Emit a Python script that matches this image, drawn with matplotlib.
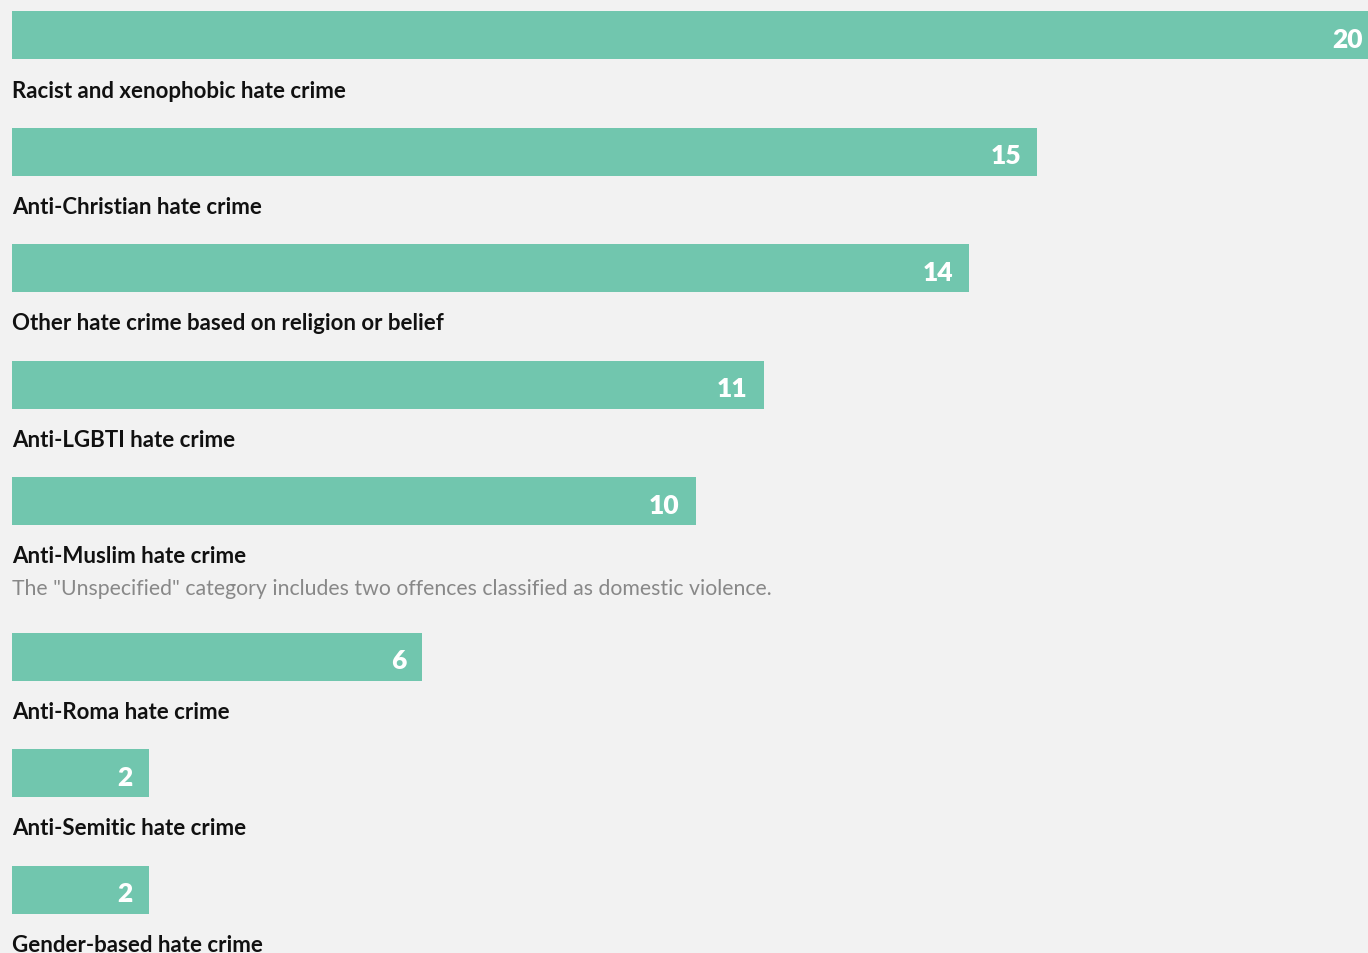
import matplotlib.pyplot as plt

categories = [
    "Racist and xenophobic hate crime",
    "Anti-Christian hate crime",
    "Other hate crime based on religion or belief",
    "Anti-LGBTI hate crime",
    "Anti-Muslim hate crime",
    "Anti-Roma hate crime",
    "Anti-Semitic hate crime",
    "Gender-based hate crime",
]
values = [20, 15, 14, 11, 10, 6, 2, 2]
note = 'The "Unspecified" category includes two offences classified as domestic violence.'
note_after = 4  # note sits below the Anti-Muslim row

BG = "#f2f2f2"
BAR = "#71c6ae"

W, H = 1368, 954
fig = plt.figure(figsize=(W / 100, H / 100), dpi=100, facecolor=BG)
left = 12
ax = fig.add_axes([left / W, 0, 1 - left / W, 1])
ax.set_facecolor(BG)
ax.set_xlim(0, (W - left) / 68.35)
ax.set_ylim(H, 0)
ax.axis("off")

font = "Lato"
step = 116.5
bar_h = 48
for i, (cat, v) in enumerate(zip(categories, values)):
    top = 12 + step * i + (39 if i > note_after else 0)
    ax.barh(top + bar_h / 2, v, height=bar_h, left=0, color=BAR)
    ax.annotate(str(v), (v, top + bar_h / 2), xytext=(-16, -4), textcoords="offset pixels",
                ha="right", va="center", color="white", fontsize=19, fontweight="heavy",
                family=font, annotation_clip=False)
    ax.text(0, top + bar_h + 31, cat, ha="left", va="center", fontsize=16,
            fontweight="bold", color="#111111", family=font)
    if i == note_after:
        ax.text(0, top + bar_h + 63, note, ha="left", va="center", fontsize=15.3,
                color="#888888", family=font)

fig.savefig("out.png", dpi=100, facecolor=BG)
